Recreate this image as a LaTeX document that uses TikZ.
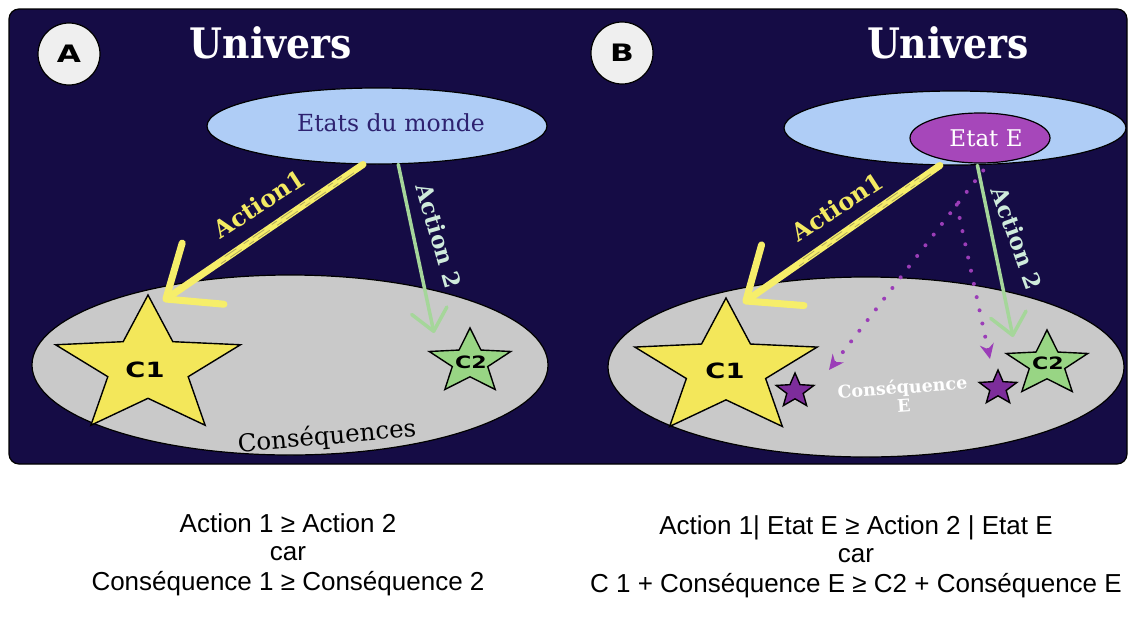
\documentclass[tikz,border=0pt]{standalone}
\usepackage{fontspec}
\usetikzlibrary{shapes.geometric,arrows.meta,calc}
\setmainfont{DejaVu Serif}
\newfontfamily\slab[FakeStretch=0.9]{DejaVu Serif}
\newfontfamily\heavy[FakeStretch=1.3]{DejaVu Sans}
\newfontfamily\bfont{Liberation Sans}
\definecolor{bgnavy}{HTML}{150C45}
\definecolor{skyb}{HTML}{AFCDF6}
\definecolor{greyc}{HTML}{C9C9C9}
\definecolor{ystar}{HTML}{F3E75A}
\definecolor{gstar}{HTML}{98D584}
\definecolor{purpE}{HTML}{A647BA}
\definecolor{purpS}{HTML}{7D2D9B}
\definecolor{purpD}{HTML}{9B3DB8}
\definecolor{ychalk}{HTML}{F6EE6A}
\definecolor{gchalk}{HTML}{A5D69A}
\definecolor{glabel}{HTML}{CFEBDC}
\definecolor{ylabel}{HTML}{F3EA62}
\definecolor{navytxt}{HTML}{2E2270}
\definecolor{badgefill}{HTML}{EFEFEF}
\begin{document}
\begin{tikzpicture}[x=1pt,y=-1pt,
  ell/.style={ellipse, draw=black, line width=1.2pt, inner sep=0pt},
  starnode/.style={star, star points=5, star point ratio=2.3, draw=black, line width=1.4pt, inner sep=0pt},
  badge/.style={circle, draw=black, line width=1.2pt, fill=badgefill, minimum size=62pt, inner sep=0pt, font=\heavy\bfseries\fontsize{24}{24}\selectfont},
  titletxt/.style={text=white, font=\slab\bfseries\fontsize{42}{42}\selectfont},
  ctxt/.style={text=black, font=\heavy\bfseries\fontsize{#1}{#1}\selectfont},
  yarrow/.style={draw=ychalk, line width=7pt, line cap=round, line join=round, -{Straight Barb[length=45pt,width=74pt,round]}},
  garrow/.style={draw=gchalk, line width=3.5pt, line cap=round, line join=round, -{Straight Barb[length=21pt,width=36pt,round]}},
  streak/.style={draw=bgnavy, opacity=0.3, line width=0.8pt, dash pattern=on 14pt off 5pt on 6pt off 9pt},
  dotarrow/.style={draw=purpD, line width=4pt, line cap=round, dash pattern=on 0pt off 13.5pt, -{Stealth[length=15pt,width=14pt,inset=5pt]}},
  ylab/.style={text=ylabel, font=\bfseries\fontsize{24}{24}\selectfont},
  glab/.style={text=glabel, font=\bfseries\fontsize{23}{23}\selectfont},
  eq/.style={text=black, font=\bfont\fontsize{26}{26}\selectfont, anchor=base},
]
\useasboundingbox (0,0) rectangle (1132,616);
\fill[white] (0,0) rectangle (1132,616);
\draw[fill=bgnavy, draw=black, line width=1.2pt, rounded corners=10pt] (9,9) rectangle (1127,464);

% ---------------- Panel A ----------------
\node[badge] (badgeA) at (69,54) {A};
\node[titletxt] (univA) at (271,43) {Univers};
\node[ell, fill=skyb, minimum width=340pt, minimum height=76pt] (mondeA) at (377,126) {};
\node[text=navytxt, font=\fontsize{23.5}{23.5}\selectfont] (mondeAtxt) at (391,123) {Etats du monde};
\node[ell, fill=greyc, minimum width=516pt, minimum height=180pt] (consA) at (290,365) {};
\begin{scope}[shift={(148,367)}]
\node[starnode, fill=ystar, minimum size=144pt, xscale=1.35] (c1A) at (0,0) {};
\end{scope}
\begin{scope}[shift={(470,362)}]
\node[starnode, fill=gstar, minimum size=68pt, xscale=1.26] (c2A) at (0,0) {};
\end{scope}
\node[ctxt=21] (c1Atxt) at (145,370) {C1};
\node[ctxt=17] (c2Atxt) at (471,362) {C2};
\node[rotate=5, text=black, font=\fontsize{24.5}{24.5}\selectfont] (consAtxt) at (327,437) {Conséquences};

\coordinate (a1Atip) at (163,301);
\coordinate (a2Atip) at (434,333);
\draw[yarrow] (mondeA.250) -- (a1Atip);
\draw[streak] ($(mondeA.250)!0.05!(a1Atip)+(1,1.5)$) -- ($(mondeA.250)!0.75!(a1Atip)+(1,1.5)$);
\draw[streak, dash phase=8pt] ($(mondeA.250)!0.1!(a1Atip)+(-1,-1.5)$) -- ($(mondeA.250)!0.7!(a1Atip)+(-1,-1.5)$);
\draw[garrow] (mondeA.299) -- (a2Atip);
\node[ylab, rotate=33] (a1Alab) at (259,204) {Action1};
\node[glab, rotate=-74] (a2Alab) at (439,236) {Action 2};

% ---------------- Panel B ----------------
\node[badge] (badgeB) at (622,53) {B};
\node[titletxt] (univB) at (948,43) {Univers};
\node[ell, fill=skyb, minimum width=342pt, minimum height=74pt] (mondeB) at (955,128) {};
\node[ell, fill=purpE, minimum width=140pt, minimum height=50pt] (etatE) at (980,138) {};
\node[text=white, font=\fontsize{23}{23}\selectfont] (etatEtxt) at (986,138) {Etat E};
\node[ell, fill=greyc, minimum width=516pt, minimum height=180pt] (consB) at (866,367) {};
\begin{scope}[shift={(726,369)}]
\node[starnode, fill=ystar, minimum size=142pt, xscale=1.35] (c1B) at (0,0) {};
\end{scope}
\begin{scope}[shift={(1047,364)}]
\node[starnode, fill=gstar, minimum size=68pt, xscale=1.26] (c2B) at (0,0) {};
\end{scope}
\begin{scope}[shift={(795,391)}]
\node[starnode, fill=purpS, minimum size=36pt, xscale=1.1] (ceL) at (0,0) {};
\end{scope}
\begin{scope}[shift={(998,388)}]
\node[starnode, fill=purpS, minimum size=36pt, xscale=1.1] (ceR) at (0,0) {};
\end{scope}
\node[ctxt=21] (c1Btxt) at (725,371) {C1};
\node[ctxt=17] (c2Btxt) at (1048,363) {C2};
\node[rotate=4, text=white, align=center, font=\bfseries\fontsize{17.5}{19}\selectfont] (ceTxt) at (903,396) {Conséquence\\E};

\coordinate (a1Btip) at (743,303);
\coordinate (a2Btip) at (1013,337);
\draw[yarrow] (mondeB.248) -- (a1Btip);
\draw[streak] ($(mondeB.248)!0.05!(a1Btip)+(1,1.5)$) -- ($(mondeB.248)!0.75!(a1Btip)+(1,1.5)$);
\draw[streak, dash phase=8pt] ($(mondeB.248)!0.1!(a1Btip)+(-1,-1.5)$) -- ($(mondeB.248)!0.7!(a1Btip)+(-1,-1.5)$);
\draw[garrow] (mondeB.301) -- (a2Btip);
\node[ylab, rotate=33] (a1Blab) at (837,207) {Action1};
\node[glab, rotate=-70] (a2Blab) at (1017,238) {Action 2};

\coordinate (dLtip) at (829,370);
\coordinate (dRtip) at (990,359);
\coordinate (dbr) at ($(etatE.289)!0.2!(dLtip)$);
\draw[dotarrow, shorten <=9pt] (etatE.289) -- (dLtip);
\draw[dotarrow] (dbr) -- (dRtip);

% ---------------- Bottom text ----------------
\node[eq] (lA1) at (288,532) {Action 1 ≥ Action 2};
\node[eq] (lA2) at (288,560) {car};
\node[eq] (lA3) at (288,590) {Conséquence 1 ≥ Conséquence 2};
\node[eq] (lB1) at (856,534) {Action 1| Etat E ≥ Action 2 | Etat E};
\node[eq] (lB2) at (856,562) {car};
\node[eq] (lB3) at (856,592) {C 1 + Conséquence E ≥ C2 + Conséquence E};
\end{tikzpicture}
\end{document}
